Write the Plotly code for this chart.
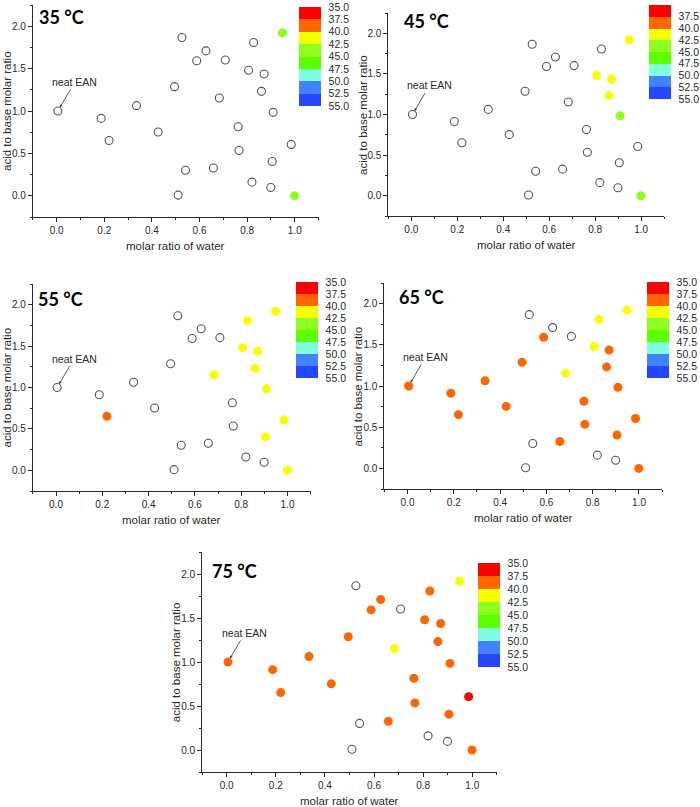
import plotly.graph_objects as go

# ---------------- data ----------------
water = [0.005, 0.187, 0.22, 0.335, 0.426, 0.495, 0.526, 0.51, 0.541, 0.588,
         0.627, 0.658, 0.683, 0.708, 0.762, 0.766, 0.806, 0.82, 0.827, 0.86,
         0.871, 0.905, 0.909, 0.899, 0.948, 0.985, 0.999]
acid_base = [1.0, 0.913, 0.652, 1.063, 0.752, 1.287, 1.866, 0.008, 0.302, 1.592,
             1.709, 0.327, 1.154, 1.602, 0.815, 0.535, 1.48, 0.161, 1.807, 1.232,
             1.437, 0.405, 0.984, 0.098, 1.921, 0.606, 0.0]
N = None
t35 = [N, N, N, N, N, N, N, N, N, N, N, N, N, N, N, N, N, N, N, N, N, N, N, N, 44, N, 44]
t45 = [N, N, N, N, N, N, N, N, N, N, N, N, N, N, N, N, 41, N, N, 41, 41, N, 44, N, 41, N, 44]
t55 = [N, N, 38.5, N, N, N, N, N, N, N, N, N, 41, N, N, N, 41, N, 41, 41, 41, 41, 41, N, 41, 41, 41]
t65 = [38.5, 38.5, 38.5, 38.5, 38.5, 38.5, N, N, N, 38.5, N, 38.5, 41, N, 38.5, 38.5, 41, N, 41,
       38.5, 38.5, 38.5, 38.5, N, 41, 38.5, 38.5]
t75 = [38.5, 38.5, 38.5, 38.5, 38.5, 38.5, N, N, N, 38.5, 38.5, 38.5, 41, N, 38.5, 38.5, 38.5, N,
       38.5, 38.5, 38.5, 38.5, 38.5, N, 41, 36, 38.5]
panel_titles = ["35 °C", "45 °C", "55 °C", "65 °C", "75 °C"]
panel_temps = [t35, t45, t55, t65, t75]

scale_ticks = [35.0, 37.5, 40.0, 42.5, 45.0, 47.5, 50.0, 52.5, 55.0]
band_colors = ["#ff0000", "#ff6600", "#f4ff00", "#8cff1e", "#5cff00", "#80ffdc", "#4282ff", "#2247ff"]

x_title = "molar ratio of water"
y_title = "acid to base molar ratio"
note = "neat EAN"

# ---------------- layout geometry (pixels) ----------------
W, H = 700, 807
geo = [
    dict(x0=33, x1=320, y0=5, y1=217, cb=(300, 7, 99), lab=(37, 17)),
    dict(x0=390, x1=667, y0=13, y1=216, cb=(652, 5, 94), lab=(404, 21)),
    dict(x0=33, x1=312, y0=284, y1=491, cb=(297, 282, 96), lab=(36, 299)),
    dict(x0=386, x1=665, y0=283, y1=489, cb=(650, 282, 96), lab=(399, 297)),
    dict(x0=203, x1=499, y0=552, y1=772, cb=(480, 563, 104), lab=(211, 571)),
]

def px(x):
    return x / W

def py(y):
    return 1 - y / H

# discrete colorscale, values are -T so 35 sits on top; built bottom (55) -> top (35)
tmin, tmax = scale_ticks[0], scale_ticks[-1]
span = tmax - tmin
cs = []
for i in reversed(range(len(band_colors))):
    t0, t1 = scale_ticks[i], scale_ticks[i + 1]
    a, b = (tmax - t1) / span, (tmax - t0) / span
    cs.append([a, band_colors[i]])
    cs.append([b, band_colors[i]])

FONT = "Liberation Sans, Arial, sans-serif"
AX = "#2a2a2a"

fig = go.Figure()
layout = dict(width=W, height=H, margin=dict(l=0, r=0, t=0, b=0),
              paper_bgcolor="white", plot_bgcolor="white", showlegend=False,
              font=dict(family=FONT, size=10, color=AX))
annotations = []

for k, (g, title, temps) in enumerate(zip(geo, panel_titles, panel_temps)):
    n = k + 1
    xa = "x" if n == 1 else f"x{n}"
    ya = "y" if n == 1 else f"y{n}"
    ca = "coloraxis" if n == 1 else f"coloraxis{n}"

    ox = [w for w, t in zip(water, temps) if t is None]
    oy = [r for r, t in zip(acid_base, temps) if t is None]
    fx = [w for w, t in zip(water, temps) if t is not None]
    fy = [r for r, t in zip(acid_base, temps) if t is not None]
    fc = [-t for t in temps if t is not None]

    fig.add_trace(go.Scatter(x=ox, y=oy, mode="markers", xaxis=xa, yaxis=ya,
                             marker=dict(size=8, color="white",
                                         line=dict(color="#555555", width=1.1))))
    fig.add_trace(go.Scatter(x=fx, y=fy, mode="markers", xaxis=xa, yaxis=ya,
                             marker=dict(size=9, color=fc, coloraxis=ca,
                                         line=dict(width=0))))

    axcommon = dict(showline=True, linecolor=AX, linewidth=1, showgrid=False,
                    zeroline=False, ticks="outside", ticklen=4, tickwidth=1,
                    tickcolor=AX, tickfont=dict(size=10, color=AX, family=FONT))
    layout["xaxis" if n == 1 else f"xaxis{n}"] = dict(
        domain=[px(g["x0"]), px(g["x1"])], range=[-0.1, 1.1], anchor=ya,
        tickvals=[0, 0.2, 0.4, 0.6, 0.8, 1.0], tickformat=".1f",
        minor=dict(tickvals=[-0.1, 0.1, 0.3, 0.5, 0.7, 0.9, 1.1], ticklen=2,
                   ticks="outside", tickcolor=AX), **axcommon)
    layout["yaxis" if n == 1 else f"yaxis{n}"] = dict(
        domain=[py(g["y1"]), py(g["y0"])], range=[-0.25, 2.25], anchor=xa,
        tickvals=[0, 0.5, 1.0, 1.5, 2.0], tickformat=".1f",
        minor=dict(tickvals=[-0.25, 0.25, 0.75, 1.25, 1.75, 2.25], ticklen=2,
                   ticks="outside", tickcolor=AX), **axcommon)

    cbx, cby, cbl = g["cb"]
    layout[ca] = dict(
        cmin=-tmax, cmax=-tmin, colorscale=cs,
        colorbar=dict(x=px(cbx), xanchor="left", xpad=0, y=py(cby), yanchor="top",
                      ypad=0, len=cbl, lenmode="pixels", thickness=22,
                      thicknessmode="pixels", outlinewidth=0,
                      tickvals=[-t for t in scale_ticks],
                      ticktext=[f"{t:.1f}" for t in scale_ticks],
                      ticks="outside", ticklen=6, tickcolor="rgba(0,0,0,0)",
                      tickfont=dict(size=10.5, color=AX, family=FONT)))

    # panel temperature label
    annotations.append(dict(text=f"<b>{title}</b>", x=px(g["lab"][0]), y=py(g["lab"][1]),
                            xref="paper", yref="paper", xanchor="left", yanchor="middle",
                            showarrow=False, font=dict(family="Lato, Open Sans, sans-serif",
                                                       size=18, color="black")))
    # axis titles
    annotations.append(dict(text=x_title, x=px((g["x0"] + g["x1"]) / 2), y=py(g["y1"] + 29),
                            xref="paper", yref="paper", xanchor="center", yanchor="middle",
                            showarrow=False, font=dict(size=11.5, color=AX, family=FONT)))
    annotations.append(dict(text=y_title, x=px(g["x0"] - 26), y=py((g["y0"] + g["y1"]) / 2),
                            xref="paper", yref="paper", xanchor="center", yanchor="middle",
                            textangle=-90, showarrow=False,
                            font=dict(size=11.5, color=AX, family=FONT)))
    # neat EAN label pointing at the first point
    annotations.append(dict(text=note, x=water[0], y=acid_base[0], xref=xa, yref=ya,
                            ax=17, ay=-29, showarrow=True, arrowhead=2, arrowsize=0.7,
                            arrowwidth=0.8, arrowcolor="#333333", standoff=4,
                            font=dict(size=10.5, color=AX, family=FONT)))

layout["annotations"] = annotations
fig.update_layout(**layout)
fig.write_html("out.html")
